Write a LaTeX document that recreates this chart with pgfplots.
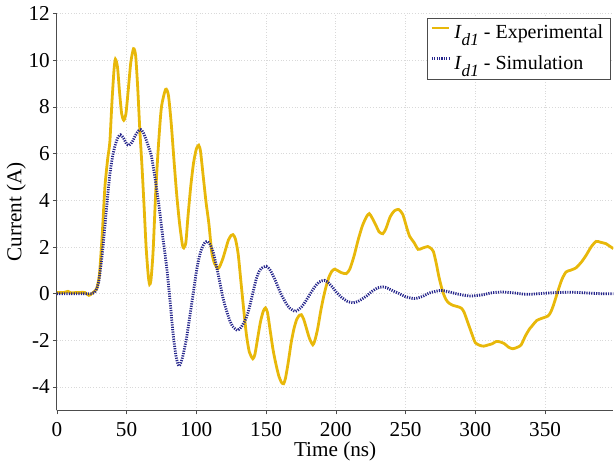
\documentclass[border=0pt]{standalone}
\usepackage{pgfplots}
\pgfplotsset{compat=1.18}
\usepackage{fontspec}
\setmainfont{Liberation Serif}
\definecolor{gold}{RGB}{232,184,10}
\definecolor{navy}{RGB}{38,38,140}
\newcommand{\Id}{\textit{I}\raisebox{-0.75ex}{\fontsize{8.6}{9}\selectfont\textit{d1}}}
\begin{document}
\begin{tikzpicture}
\begin{axis}[
  scale only axis, width=278.5pt, height=198.5pt,
  xmin=0, xmax=399, ymin=-5, ymax=12,
  axis lines=left, axis line style={-, draw=black!70, line width=0.6pt},
  xtick={0,50,...,350}, ytick={-4,-2,...,12},
  yticklabels={-4,-2,0,2,4,6,8,10,12},
  grid=major, grid style={densely dotted, draw=black!15, line width=0.5pt},
  tick align=outside, major tick length=2pt,
  tick style={draw=black!70},
  /pgf/number format/assume math mode=true,
  ticklabel style={font=\fontsize{10.6}{12}\selectfont},
  yticklabel style={xshift=2pt},
  xticklabel style={yshift=-0.5pt},
  label style={font=\fontsize{10.6}{12}\selectfont},
  xlabel={Time (ns)}, ylabel={Current (A)},
  xlabel style={yshift=3pt, inner sep=2pt}, ylabel style={yshift=-5.5pt},
  legend style={at={(rel axis cs:0.995,0.99)}, anchor=north east,
    draw=black!70, line width=0.4pt, font=\fontsize{10}{12}\selectfont,
    inner sep=1.5pt, row sep=3pt},
  legend cell align=left,
  legend image code/.code={\draw[#1] (0cm,0.6ex) -- (0.3cm,0.6ex);},
]
\addplot[gold, line width=1.4pt, smooth, tension=0.4] coordinates {
(0,0.05) (5,0.05) (8,0.1) (10,0.04) (15,0.05) (20,0.05) (23,-0.07) (25,0.0) (27,0.1)
(28.5,0.2) (30.5,0.8) (32.5,2.5) (34.5,4.6) (36.5,5.8) (38,6.5) (39.5,8.2) (41,9.6)
(42,10.05) (43.5,9.7) (45,8.6) (46.5,7.7) (48,7.43) (49.5,7.7) (51,8.6) (53,9.9)
(55,10.5) (56.5,10.2) (58,8.8) (59.5,7.0) (61,5.5) (62.5,3.8) (64,2.0) (65.5,0.8)
(66.5,0.4) (67.5,0.6) (69,1.8) (71,4.5) (73,6.5) (75,8.0) (78,8.76) (80,8.5)
(82,7.3) (84,5.7) (86,4.2) (88,3.0) (90,2.1) (91,1.96) (92.5,2.2) (94,3.3)
(96,4.6) (98,5.6) (100,6.2) (101.7,6.36) (103,6.1) (105,5.0) (107,3.9) (109,3.0)
(111,1.8) (113,1.3) (115.5,1.07) (117,1.2) (119,1.5) (121,1.9) (123,2.3) (125,2.5)
(126.3,2.53) (128,2.35) (130,1.7) (132,0.5) (134,-0.7) (136,-1.8) (138,-2.5)
(140.5,-2.79) (142,-2.6) (144,-1.9) (146,-1.2) (148,-0.75) (149.5,-0.61) (151,-0.8)
(153,-1.6) (155,-2.4) (157,-3.0) (159,-3.5) (161,-3.8) (162.6,-3.86) (164,-3.6)
(166,-2.9) (168,-2.1) (170,-1.5) (172,-1.1) (174,-0.92) (175.3,-0.9) (177,-1.1)
(179,-1.5) (181,-1.9) (183.5,-2.19) (185,-2.0) (187,-1.5) (189,-0.8) (191,-0.2)
(193,0.3) (195,0.7) (197,0.95) (199,1.05) (201,1.0) (204,0.9) (207.5,0.86)
(210,1.05) (213,1.6) (216,2.3) (219,2.9) (222,3.3) (224,3.43) (226,3.25) (229,2.9)
(231,2.65) (233.7,2.57) (236,2.8) (239,3.3) (242,3.55) (245,3.61) (248,3.4)
(251,2.8) (253,2.45) (256,2.2) (259,1.9) (262,1.95) (264.5,2.0) (266,2.02)
(268,1.95) (270,1.8) (272,1.3) (274,0.7) (276.7,0.07) (279,-0.25) (281,-0.4)
(284,-0.5) (287,-0.55) (290,-0.62) (292,-0.8) (295,-1.3) (298,-1.8) (300,-2.1)
(303,-2.21) (306,-2.25) (309,-2.2) (312,-2.15) (315,-2.05) (318,-2.07) (321,-2.15)
(324,-2.3) (327,-2.36) (330,-2.3) (332.8,-2.2) (336,-1.8) (339,-1.5) (341,-1.36)
(344,-1.15) (348,-1.05) (352,-0.96) (354,-0.8) (356,-0.5) (359,0.07) (362,0.6)
(365,0.93) (368,1.0) (372,1.1) (376,1.35) (379.4,1.64) (383,2.0) (386.6,2.24)
(390,2.2) (393.8,2.14) (396,2.05) (399,1.93)
};
\addlegendentry{\Id{} - Experimental}
\addplot[navy, line width=1.4pt, dash pattern=on 0.6pt off 0.6pt, smooth, tension=0.4] coordinates {
(0,0) (10,0) (20,0) (25,0) (27,0.05) (28.5,0.2) (30,0.5) (32,1.4) (34,2.6) (36,3.9)
(38,5.1) (40,5.9) (42,6.4) (44,6.72) (45.6,6.81) (47.5,6.7) (50,6.42) (51.8,6.36)
(54,6.5) (56.5,6.8) (58.5,6.98) (60.2,7.03) (62,6.9) (64,6.6) (66,6.25) (67.8,5.9)
(70,5.1) (72,4.3) (73.8,3.5) (76,2.4) (78.6,1.2) (81,-0.2) (83.3,-1.7) (85.5,-2.7)
(87.6,-3.1) (90,-2.75) (92.9,-1.93) (95,-1.1) (97.5,-0.1) (100,0.93) (102,1.55)
(104,1.95) (106,2.18) (107.9,2.24) (110,2.1) (112,1.8) (114,1.3) (116.8,0.5)
(119,-0.15) (121,-0.6) (123.9,-1.14) (126,-1.4) (129.4,-1.57) (132,-1.45)
(134,-1.25) (136,-1.0) (138,-0.6) (140,-0.1) (143,0.64) (145,0.95) (147,1.1)
(150.2,1.17) (153,1.0) (156,0.65) (158.5,0.29) (161,-0.05) (164.5,-0.43) (167,-0.62)
(171,-0.76) (174,-0.65) (177,-0.45) (181,-0.07) (185,0.3) (188,0.5) (192,0.57)
(195,0.45) (198,0.25) (200.3,0.07) (204,-0.15) (208,-0.32) (212.3,-0.39) (216,-0.33)
(219,-0.22) (222,-0.1) (226,0.1) (230,0.25) (233.8,0.29) (237,0.24) (241,0.12)
(245.7,0.0) (250,-0.13) (256.4,-0.21) (262,-0.12) (268,0.05) (275.6,0.14) (281,0.08)
(286.3,0.0) (292,-0.07) (297,-0.1) (305,-0.05) (312,0.04) (319.7,0.07) (328,0.03)
(335,-0.02) (341,-0.02) (350,0.02) (360,0.05) (370,0.06) (380,0.03) (390,0.0) (399,0.0)
};
\addlegendentry{\Id{} - Simulation}
\end{axis}
\end{tikzpicture}
\end{document}
